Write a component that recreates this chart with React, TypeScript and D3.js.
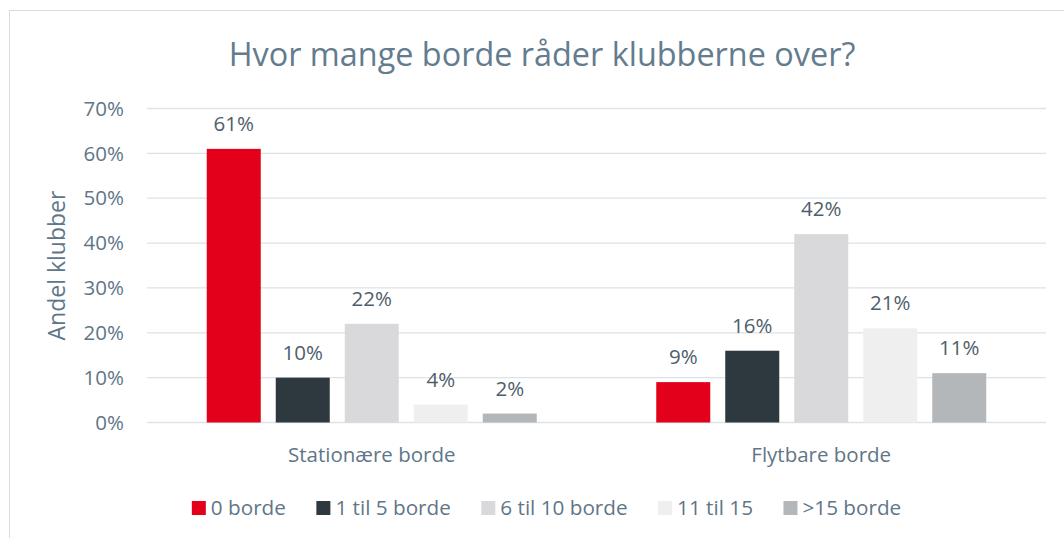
import React, { useEffect, useRef } from "react";
import * as d3 from "d3";

const categories = ["Stationære borde", "Flytbare borde"];
const seriesNames = ["0 borde", "1 til 5 borde", "6 til 10 borde", "11 til 15", ">15 borde"];
const seriesColors = ["#E2001A", "#2E383F", "#D9D9DB", "#EFEFF0", "#B4B7B9"];
const stationaere = [0.61, 0.1, 0.22, 0.04, 0.02];
const flytbare = [0.09, 0.16, 0.42, 0.21, 0.11];
const yTicks = [0, 0.1, 0.2, 0.3, 0.4, 0.5, 0.6, 0.7];
const title = "Hvor mange borde råder klubberne over?";
const yLabel = "Andel klubber";

const W = 1064;
const H = 538;
const FONT = "'Open Sans', sans-serif";
const AXIS_COLOR = "#5F7688";
const LABEL_COLOR = "#4F5E6B";

export default function App() {
  const ref = useRef<SVGSVGElement>(null);

  useEffect(() => {
    const svg = d3.select(ref.current);
    svg.selectAll("*").remove();

    const values = [stationaere, flytbare];
    const plot = { left: 147, right: 1046, top: 108.5, bottom: 422.5 };

    const y = d3.scaleLinear().domain([0, 0.7]).range([plot.bottom, plot.top]);
    const x0 = d3.scaleBand<string>().domain(categories).range([plot.left, plot.right]);
    const groupW = x0.bandwidth();
    const x1 = d3
      .scaleBand<string>()
      .domain(seriesNames)
      .range([groupW / 2 - 165, groupW / 2 + 165])
      .paddingInner(15 / 69);

    svg.append("rect").attr("width", W).attr("height", H).attr("fill", "#fff");
    svg.append("line").attr("x1", 9).attr("x2", W).attr("y1", 10.5).attr("y2", 10.5).attr("stroke", "#D9DDE1").attr("stroke-width", 1);
    svg.append("line").attr("x1", 9.5).attr("x2", 9.5).attr("y1", 10).attr("y2", H).attr("stroke", "#D9DDE1").attr("stroke-width", 1);

    svg
      .append("text")
      .attr("x", 542)
      .attr("y", 66)
      .attr("text-anchor", "middle")
      .attr("font-family", FONT)
      .attr("font-size", 32.4)
      .attr("fill", "#637C8E")
      .text(title);

    const grid = svg.append("g");
    yTicks.forEach((t) => {
      grid
        .append("line")
        .attr("x1", plot.left)
        .attr("x2", plot.right)
        .attr("y1", y(t))
        .attr("y2", y(t))
        .attr("stroke", "#DDE2E6")
        .attr("stroke-width", 1.3);
      grid
        .append("text")
        .attr("x", 124)
        .attr("y", y(t))
        .attr("dy", "0.35em")
        .attr("text-anchor", "end")
        .attr("font-family", FONT)
        .attr("font-size", 20.5)
        .attr("fill", AXIS_COLOR)
        .text(d3.format(".0%")(t));
    });

    svg
      .append("text")
      .attr("transform", `translate(64.5,${(plot.top + plot.bottom) / 2}) rotate(-90)`)
      .attr("text-anchor", "middle")
      .attr("font-family", FONT)
      .attr("font-size", 23)
      .attr("fill", AXIS_COLOR)
      .text(yLabel);

    categories.forEach((cat, ci) => {
      const g = svg.append("g").attr("transform", `translate(${x0(cat)},0)`);
      values[ci].forEach((v, si) => {
        const sx = x1(seriesNames[si])!;
        g.append("rect")
          .attr("x", sx)
          .attr("y", y(v))
          .attr("width", x1.bandwidth())
          .attr("height", y(0) - y(v))
          .attr("fill", seriesColors[si]);
        g.append("text")
          .attr("x", sx + x1.bandwidth() / 2)
          .attr("y", y(v) - 18)
          .attr("text-anchor", "middle")
          .attr("font-family", FONT)
          .attr("font-size", 20.5)
          .attr("fill", LABEL_COLOR)
          .text(d3.format(".0%")(v));
      });
      svg
        .append("text")
        .attr("x", x0(cat)! + groupW / 2)
        .attr("y", 462)
        .attr("text-anchor", "middle")
        .attr("font-family", FONT)
        .attr("font-size", 20.5)
        .attr("fill", AXIS_COLOR)
        .text(cat);
    });

    const legend = svg.append("g");
    const items: { g: any; w: number }[] = [];
    seriesNames.forEach((name, i) => {
      const g = legend.append("g");
      g.append("rect").attr("x", 0).attr("y", -7).attr("width", 14).attr("height", 14).attr("fill", seriesColors[i]);
      const t = g
        .append("text")
        .attr("x", 19)
        .attr("y", 0)
        .attr("dy", "0.35em")
        .attr("font-family", FONT)
        .attr("font-size", 20.7)
        .attr("fill", AXIS_COLOR)
        .text(name);
      const tw = (t.node() as SVGTextElement).getComputedTextLength();
      items.push({ g, w: 19 + tw });
    });
    const gap = 30.5;
    const total = d3.sum(items, (d) => d.w) + gap * (items.length - 1);
    let cx = 546.5 - total / 2;
    items.forEach((it) => {
      it.g.attr("transform", `translate(${cx},508)`);
      cx += it.w + gap;
    });
  }, []);

  return (
    <svg
      ref={ref}
      width={W}
      height={H}
      style={{ position: "absolute", left: 0, top: 0, display: "block" }}
    />
  );
}
